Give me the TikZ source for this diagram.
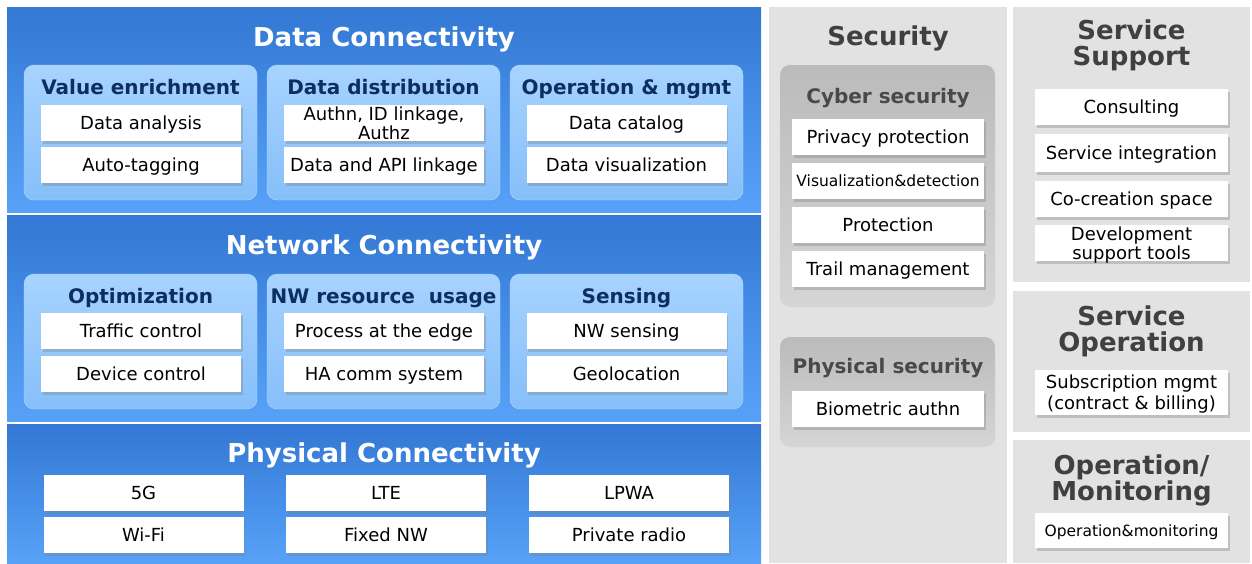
\documentclass[tikz,border=0pt]{standalone}
\usepackage{fontspec}
\setmainfont{DejaVu Sans}
\usetikzlibrary{shadows}
\definecolor{BandTop}{HTML}{3378D4}
\definecolor{BandBottom}{HTML}{57A2F8}
\definecolor{PanelTop}{HTML}{A7D3FF}
\definecolor{PanelBottom}{HTML}{86BFF9}
\definecolor{PanelEdge}{HTML}{B4DAFF}
\definecolor{Navy}{HTML}{0D2F5F}
\definecolor{LightGray}{HTML}{E2E2E2}
\definecolor{MidGrayTop}{HTML}{BBBBBB}
\definecolor{MidGrayBottom}{HTML}{D5D5D5}
\definecolor{DarkText}{HTML}{404040}
\newcommand{\boxfont}{\fontsize{18}{15}\selectfont}
\newcommand{\smallboxfont}{\fontsize{15.5}{15}\selectfont}

\begin{document}
\begin{tikzpicture}[x=1pt, y=-1pt, every node/.style={text depth=0pt},
  band/.style={top color=BandTop, bottom color=BandBottom},
  panel/.style={top color=PanelTop, bottom color=PanelBottom, draw=PanelEdge, rounded corners=10pt},
  graypanel/.style={top color=MidGrayTop, bottom color=MidGrayBottom, rounded corners=10pt},
  box/.style={fill=white, minimum width=200pt, minimum height=36pt, inner sep=0pt, align=center,
    font=\boxfont, drop shadow={shadow xshift=1.5pt, shadow yshift=-2.5pt, opacity=0.35}},
  bandtitle/.style={text=white, font=\fontsize{26}{27}\selectfont\bfseries},
  subtitle/.style={text=Navy, font=\fontsize{20}{21}\selectfont\bfseries},
  sectitle/.style={text=DarkText, align=center, font=\fontsize{26}{26.5}\selectfont\bfseries},
  graytitle/.style={text=DarkText!95, font=\fontsize{20}{21}\selectfont\bfseries}]
\useasboundingbox (0,0) rectangle (1252,563);

% Blue bands
\path[band] (7,7) rectangle (761,212);
\path[band] (7,215) rectangle (761,421);
\path[band] (7,424) rectangle (761,563);

% Gray columns
\fill[LightGray] (769,7) rectangle (1007,563);
\fill[LightGray] (1013,7) rectangle (1250,282);
\fill[LightGray] (1013,291) rectangle (1250,432);
\fill[LightGray] (1013,440) rectangle (1250,563);

% Data Connectivity
\node[bandtitle] (dataconn) at (384,36.5) {Data Connectivity};
\path[panel] (24,65) rectangle (257,200);
\path[panel] (267,65) rectangle (500,200);
\path[panel] (510,65) rectangle (743,200);
\node[subtitle] (valueenr) at (140.5,87) {Value enrichment};
\node[subtitle] (datadist) at (383.5,87) {Data distribution};
\node[subtitle] (opmgmt) at (626.5,87) {Operation \& mgmt};
\node[box] (analysis) at (141,123) {Data analysis};
\node[box] (tagging) at (141,165) {Auto-tagging};
\node[box] (authn) at (384,123) {Authn, ID linkage,\\Authz};
\node[box] (apilink) at (384,165) {Data and API linkage};
\node[box] (catalog) at (626.5,123) {Data catalog};
\node[box] (visual) at (626.5,165) {Data visualization};

% Network Connectivity
\node[bandtitle] (netconn) at (384,245) {Network Connectivity};
\path[panel] (24,274) rectangle (257,409);
\path[panel] (267,274) rectangle (500,409);
\path[panel] (510,274) rectangle (743,409);
\node[subtitle] (optim) at (140.5,296) {Optimization};
\node[subtitle] (nwres) at (383.5,296) {NW resource\ \ usage};
\node[subtitle] (sensing) at (626.5,296) {Sensing};
\node[box] (traffic) at (141,331) {Traffic control};
\node[box] (device) at (141,374) {Device control};
\node[box] (edge) at (384,331) {Process at the edge};
\node[box] (hacomm) at (384,374) {HA comm system};
\node[box] (nwsens) at (626.5,331) {NW sensing};
\node[box] (geoloc) at (626.5,374) {Geolocation};

% Physical Connectivity
\node[bandtitle] (physconn) at (384,453) {Physical Connectivity};
\node[box] (fiveg) at (143.5,493) {5G};
\node[box] (wifi) at (143.5,535) {Wi-Fi};
\node[box] (lte) at (386,493) {LTE};
\node[box] (fixed) at (386,535) {Fixed NW};
\node[box] (lpwa) at (629,493) {LPWA};
\node[box] (privradio) at (629,535) {Private radio};

% Security
\node[sectitle] (security) at (888,36) {Security};
\path[graypanel] (780,65) rectangle (995,307);
\node[graytitle] (cyber) at (888,95.5) {Cyber security};
\node[box, minimum width=192pt] (privacy) at (888,137) {Privacy protection};
\node[box, minimum width=192pt, font=\smallboxfont] (visdet) at (888,181) {Visualization\&detection};
\node[box, minimum width=192pt] (protect) at (888,225) {Protection};
\node[box, minimum width=192pt] (trail) at (888,269) {Trail management};
\path[graypanel] (780,337) rectangle (995,447);
\node[graytitle] (physsec) at (888,365.5) {Physical security};
\node[box, minimum width=192pt] (biometric) at (888,409) {Biometric authn};

% Service Support / Operation / Monitoring
\node[sectitle] (support) at (1131.5,42.5) {Service\\Support};
\node[box, minimum width=193pt] (consult) at (1131.5,107) {Consulting};
\node[box, minimum width=193pt, minimum height=38pt] (integr) at (1131.5,153) {Service integration};
\node[box, minimum width=193pt] (cocreate) at (1131.5,199) {Co-creation space};
\node[box, minimum width=193pt, font=\fontsize{18}{16}\selectfont] (devtools) at (1131.5,243) {Development\\support tools};
\node[sectitle] (operation) at (1131.5,328.5) {Service\\Operation};
\node[box, minimum width=193pt, minimum height=45pt, font=\fontsize{18}{21}\selectfont] (subscr) at (1131.5,392.5) {Subscription mgmt\\(contract \& billing)};
\node[sectitle] (monitor) at (1131.5,477.5) {Operation/\\Monitoring};
\node[box, minimum width=193pt, minimum height=35pt, font=\smallboxfont] (opmon) at (1131.5,530.5) {Operation\&monitoring};
\end{tikzpicture}
\end{document}
